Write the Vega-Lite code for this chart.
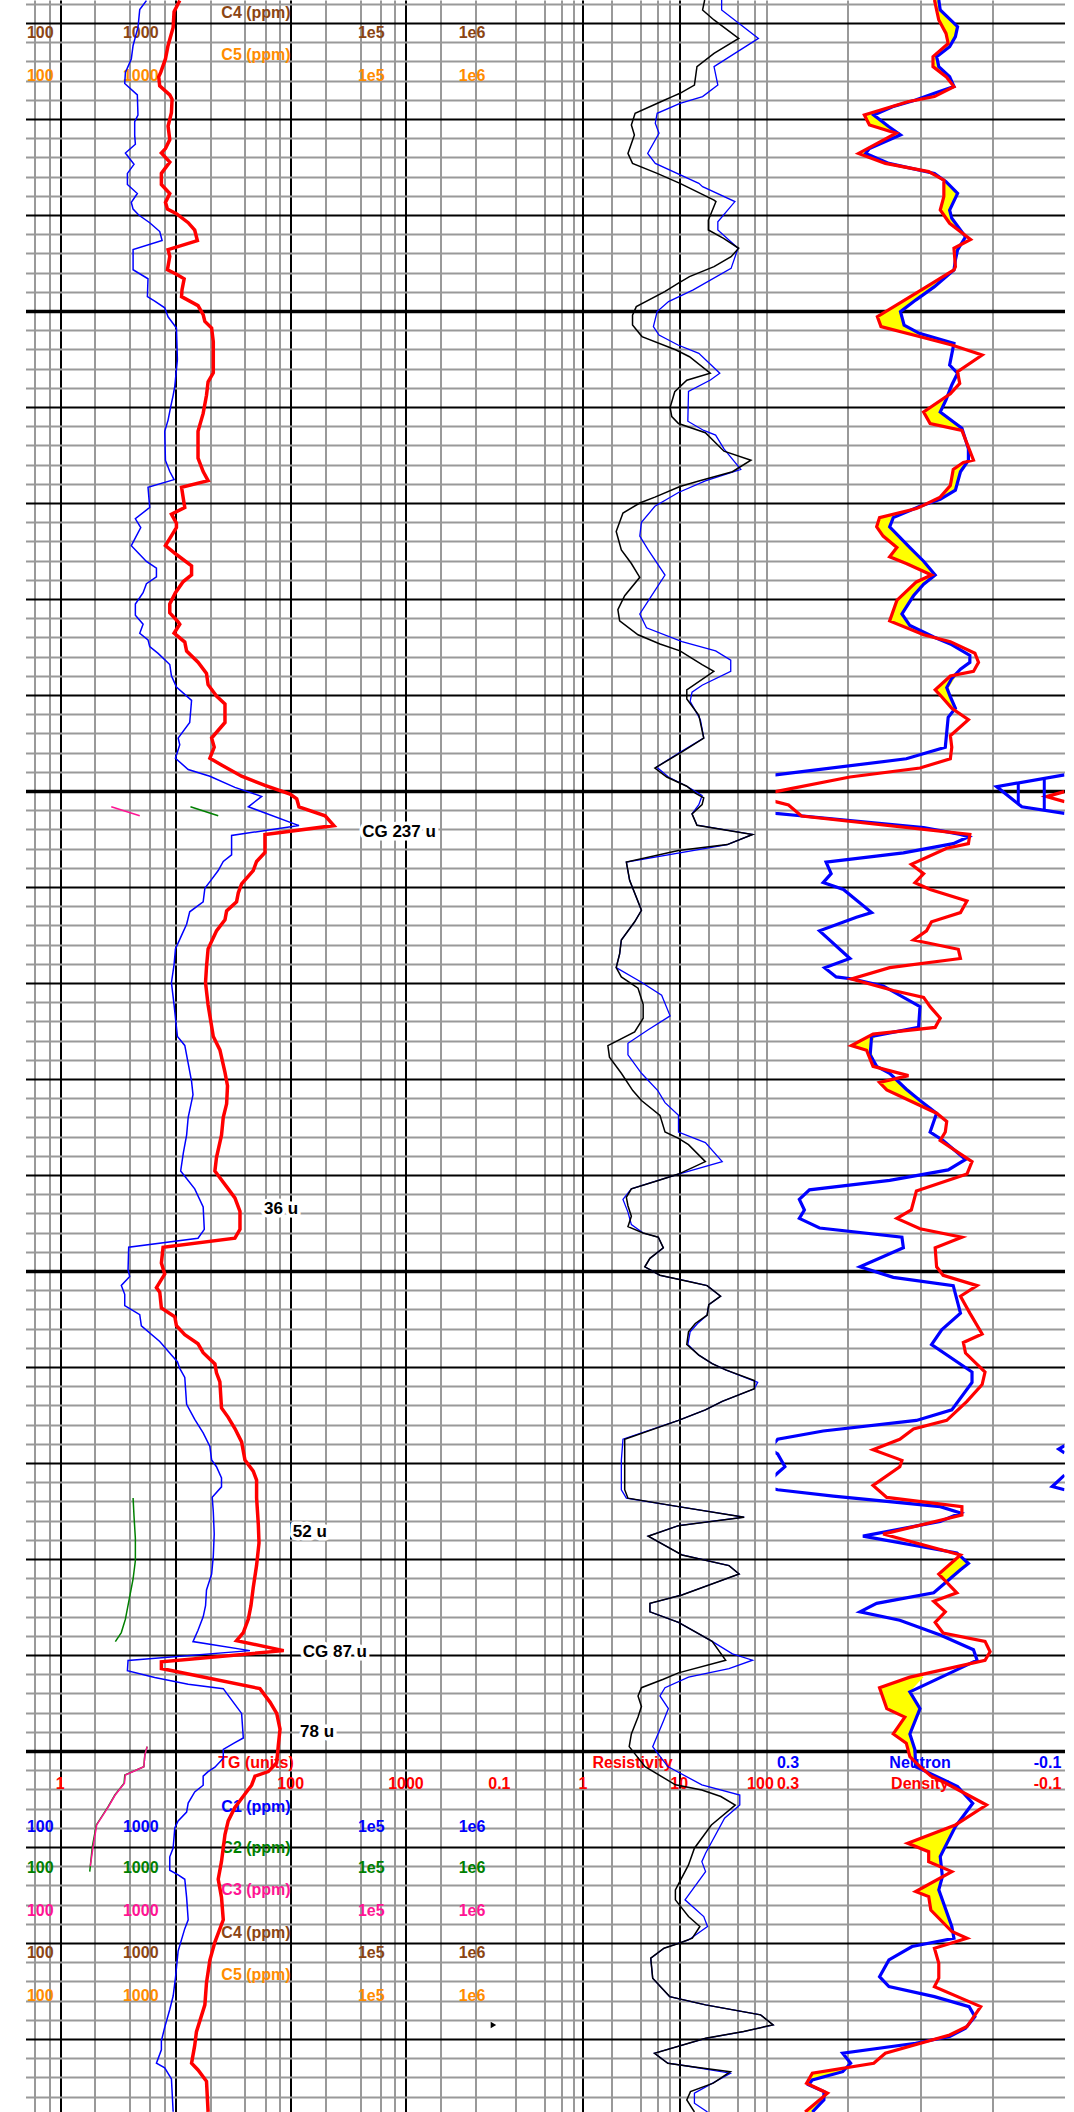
{
"$schema": "https://vega.github.io/schema/vega-lite/v6.json",
"padding": {"left": 25.5, "top": 0, "right": 6.5, "bottom": 0},
"autosize": {"type": "pad"},
"spacing": 0,
"bounds": "flush",
"background": "white",
"config": {"view": {"stroke": null}},
"datasets": {
"tg": [{"depth":8.83,"tg":10.9},{"depth":9.41,"tg":9.73},{"depth":10.23,"tg":9.55},{"depth":11.17,"tg":8.63},{"depth":11.87,"tg":8.19},{"depth":12.57,"tg":7.45},{"depth":12.8,"tg":7.16},{"depth":13.27,"tg":7.3},{"depth":13.74,"tg":8.93},{"depth":13.97,"tg":9.35},{"depth":14.67,"tg":9.23},{"depth":15.37,"tg":8.63},{"depth":16.07,"tg":8.93},{"depth":16.54,"tg":8.19},{"depth":16.77,"tg":7.55},{"depth":17.24,"tg":8.93},{"depth":17.83,"tg":7.55},{"depth":18.41,"tg":7.55},{"depth":18.88,"tg":8.93},{"depth":19.34,"tg":8.19},{"depth":19.69,"tg":8.52},{"depth":19.93,"tg":10.2},{"depth":20.4,"tg":12.9},{"depth":20.79,"tg":14.7},{"depth":21.33,"tg":15.5},{"depth":21.8,"tg":8.63},{"depth":22.15,"tg":8.93},{"depth":22.85,"tg":8.52},{"depth":23.08,"tg":10.2},{"depth":23.32,"tg":11.9},{"depth":23.9,"tg":11.4},{"depth":24.25,"tg":11.3},{"depth":24.72,"tg":15.7},{"depth":25.19,"tg":17.4},{"depth":25.54,"tg":18.0},{"depth":25.89,"tg":20.6},{"depth":26.59,"tg":21.3},{"depth":28.22,"tg":21.3},{"depth":28.69,"tg":19.2},{"depth":29.39,"tg":18.6},{"depth":30.33,"tg":17.4},{"depth":31.26,"tg":15.7},{"depth":32.66,"tg":15.7},{"depth":33.36,"tg":17.4},{"depth":33.83,"tg":19.2},{"depth":34.18,"tg":11.3},{"depth":34.76,"tg":11.7},{"depth":35.23,"tg":12.05},{"depth":35.58,"tg":9.23},{"depth":36.05,"tg":10.2},{"depth":36.28,"tg":10.2},{"depth":37.22,"tg":8.19},{"depth":37.68,"tg":10.2},{"depth":38.27,"tg":13.8},{"depth":38.74,"tg":13.8},{"depth":39.09,"tg":11.7},{"depth":39.67,"tg":10.0},{"depth":40.26,"tg":8.93},{"depth":40.72,"tg":8.93},{"depth":41.19,"tg":10.55},{"depth":41.31,"tg":10.9},{"depth":41.78,"tg":9.73},{"depth":42.24,"tg":12.05},{"depth":42.71,"tg":12.5},{"depth":43.29,"tg":15.7},{"depth":43.88,"tg":18.6},{"depth":44.46,"tg":19.2},{"depth":45.05,"tg":22.7},{"depth":45.47,"tg":26.9},{"depth":46.43,"tg":26.9},{"depth":47.24,"tg":20.6},{"depth":47.71,"tg":21.7},{"depth":48.29,"tg":19.9},{"depth":48.64,"tg":25.1},{"depth":49.23,"tg":37.5},{"depth":49.7,"tg":59.8},{"depth":50.16,"tg":98.7},{"depth":50.4,"tg":112.8},{"depth":50.82,"tg":118},{"depth":51.29,"tg":199},{"depth":51.8,"tg":237},{"depth":52.27,"tg":59.8},{"depth":53.2,"tg":59.8},{"depth":53.67,"tg":50.6},{"depth":54.14,"tg":47.3},{"depth":54.84,"tg":37.5},{"depth":55.3,"tg":35.1},{"depth":55.77,"tg":33.9},{"depth":56.24,"tg":27.8},{"depth":56.71,"tg":26.9},{"depth":57.29,"tg":22.7},{"depth":58.22,"tg":19.2},{"depth":59.16,"tg":18.6},{"depth":59.98,"tg":18.24},{"depth":61.14,"tg":19.2},{"depth":62.78,"tg":21.3},{"depth":63.48,"tg":24.3},{"depth":64.65,"tg":26.9},{"depth":65.35,"tg":28.3},{"depth":66.29,"tg":27.8},{"depth":66.99,"tg":26.0},{"depth":67.92,"tg":25.1},{"depth":69.09,"tg":22.7},{"depth":69.79,"tg":22.0},{"depth":70.02,"tg":23.5},{"depth":70.72,"tg":28.7},{"depth":71.19,"tg":32.8},{"depth":71.89,"tg":36.3},{"depth":72.83,"tg":36.3},{"depth":73.29,"tg":32.8},{"depth":73.76,"tg":7.81},{"depth":74.58,"tg":7.55},{"depth":75.16,"tg":8.07},{"depth":75.86,"tg":6.84},{"depth":76.1,"tg":7.31},{"depth":76.92,"tg":7.55},{"depth":77.38,"tg":9.87},{"depth":77.85,"tg":10.2},{"depth":78.32,"tg":12.05},{"depth":78.79,"tg":15.7},{"depth":79.25,"tg":17.4},{"depth":79.84,"tg":22.0},{"depth":80.3,"tg":22.7},{"depth":80.77,"tg":24.3},{"depth":82.13,"tg":25.1},{"depth":82.62,"tg":28.7},{"depth":83.2,"tg":32.8},{"depth":83.9,"tg":37.5},{"depth":84.84,"tg":40.1},{"depth":85.42,"tg":47.3},{"depth":85.89,"tg":50.6},{"depth":86.82,"tg":50.6},{"depth":88.22,"tg":52.4},{"depth":89.16,"tg":53.1},{"depth":90.33,"tg":50.6},{"depth":91.5,"tg":47.3},{"depth":92.43,"tg":45.2},{"depth":93.13,"tg":42.9},{"depth":93.83,"tg":38.8},{"depth":94.25,"tg":33.9},{"depth":94.77,"tg":87},{"depth":95.35,"tg":7.55},{"depth":95.7,"tg":7.55},{"depth":96.75,"tg":54.1},{"depth":97.45,"tg":66.1},{"depth":98.04,"tg":75.6},{"depth":98.86,"tg":80.8},{"depth":99.67,"tg":78.2},{"depth":100.61,"tg":75.6},{"depth":101.07,"tg":63.9},{"depth":101.31,"tg":49.0},{"depth":101.78,"tg":45.8},{"depth":102.24,"tg":40.1},{"depth":102.94,"tg":32.8},{"depth":103.64,"tg":28.7},{"depth":104.35,"tg":26.9},{"depth":105.75,"tg":25.1},{"depth":106.68,"tg":23.5},{"depth":107.62,"tg":25.1},{"depth":108.79,"tg":26.0},{"depth":109.95,"tg":22.0},{"depth":110.89,"tg":19.9},{"depth":112.06,"tg":18.6},{"depth":113.22,"tg":18.0},{"depth":114.63,"tg":15.2},{"depth":115.33,"tg":14.7},{"depth":116.26,"tg":13.8},{"depth":116.61,"tg":15.7},{"depth":117.2,"tg":18.6},{"depth":118.79,"tg":19.2}],
"c1": [{"depth":8.83,"ppm":1120},{"depth":9.3,"ppm":980},{"depth":10.23,"ppm":946},{"depth":11.17,"ppm":858},{"depth":11.87,"ppm":828},{"depth":12.57,"ppm":736},{"depth":13.15,"ppm":726},{"depth":13.74,"ppm":934},{"depth":14.79,"ppm":946},{"depth":15.14,"ppm":886},{"depth":15.84,"ppm":886},{"depth":16.31,"ppm":898},{"depth":16.77,"ppm":736},{"depth":17.36,"ppm":874},{"depth":17.83,"ppm":766},{"depth":18.41,"ppm":766},{"depth":18.88,"ppm":934},{"depth":19.34,"ppm":828},{"depth":19.69,"ppm":858},{"depth":20.0,"ppm":960},{"depth":20.4,"ppm":1196},{"depth":20.86,"ppm":1462},{"depth":21.33,"ppm":1532},{"depth":21.8,"ppm":858},{"depth":22.85,"ppm":858},{"depth":23.32,"ppm":1156},{"depth":24.25,"ppm":1142},{"depth":24.48,"ppm":1322},{"depth":24.83,"ppm":1614},{"depth":25.3,"ppm":1726},{"depth":25.89,"ppm":2040},{"depth":27.52,"ppm":2080},{"depth":28.92,"ppm":1974},{"depth":29.39,"ppm":1910},{"depth":29.97,"ppm":1822},{"depth":30.68,"ppm":1726},{"depth":31.26,"ppm":1614},{"depth":32.78,"ppm":1638},{"depth":33.36,"ppm":1786},{"depth":33.78,"ppm":1946},{"depth":34.18,"ppm":1156},{"depth":35.23,"ppm":1196},{"depth":35.82,"ppm":898},{"depth":36.28,"ppm":1000},{"depth":37.22,"ppm":828},{"depth":37.68,"ppm":980},{"depth":38.04,"ppm":1120},{"depth":38.39,"ppm":1368},{"depth":38.85,"ppm":1368},{"depth":39.2,"ppm":1120},{"depth":39.67,"ppm":1048},{"depth":40.26,"ppm":898},{"depth":40.84,"ppm":898},{"depth":41.31,"ppm":1048},{"depth":41.78,"ppm":980},{"depth":42.13,"ppm":1156},{"depth":42.48,"ppm":1196},{"depth":42.83,"ppm":1414},{"depth":43.41,"ppm":1786},{"depth":44.0,"ppm":1846},{"depth":44.58,"ppm":2040},{"depth":45.28,"ppm":2760},{"depth":46.43,"ppm":2660},{"depth":47.24,"ppm":2110},{"depth":47.59,"ppm":2180},{"depth":48.29,"ppm":2000},{"depth":48.88,"ppm":2580},{"depth":49.23,"ppm":3980},{"depth":49.81,"ppm":6560},{"depth":50.28,"ppm":11200},{"depth":50.82,"ppm":8580},{"depth":51.8,"ppm":23600},{"depth":52.31,"ppm":6140},{"depth":53.32,"ppm":6140},{"depth":53.67,"ppm":5200},{"depth":54.14,"ppm":4700},{"depth":54.6,"ppm":4120},{"depth":55.07,"ppm":3600},{"depth":55.77,"ppm":3480},{"depth":56.29,"ppm":2660},{"depth":56.94,"ppm":2500},{"depth":57.52,"ppm":2260},{"depth":58.22,"ppm":2000},{"depth":59.04,"ppm":1946},{"depth":59.98,"ppm":1846},{"depth":61.14,"ppm":1946},{"depth":62.78,"ppm":2080},{"depth":63.25,"ppm":2410},{"depth":64.18,"ppm":2580},{"depth":65.12,"ppm":2760},{"depth":65.82,"ppm":2840},{"depth":66.99,"ppm":2580},{"depth":67.92,"ppm":2500},{"depth":68.86,"ppm":2340},{"depth":69.79,"ppm":2220},{"depth":70.72,"ppm":2940},{"depth":71.66,"ppm":3480},{"depth":72.83,"ppm":3560},{"depth":73.29,"ppm":3140},{"depth":73.76,"ppm":786},{"depth":74.93,"ppm":776},{"depth":75.28,"ppm":802},{"depth":75.75,"ppm":678},{"depth":76.21,"ppm":726},{"depth":76.8,"ppm":726},{"depth":77.27,"ppm":980},{"depth":77.85,"ppm":1012},{"depth":78.67,"ppm":1462},{"depth":79.37,"ppm":1846},{"depth":79.72,"ppm":2080},{"depth":80.07,"ppm":2180},{"depth":80.54,"ppm":2410},{"depth":81.94,"ppm":2500},{"depth":82.73,"ppm":2940},{"depth":83.43,"ppm":3480},{"depth":84.14,"ppm":3980},{"depth":84.84,"ppm":4120},{"depth":85.19,"ppm":4540},{"depth":85.77,"ppm":5020},{"depth":86.24,"ppm":5020},{"depth":86.78,"ppm":4170},{"depth":87.52,"ppm":4260},{"depth":88.69,"ppm":4340},{"depth":89.86,"ppm":4260},{"depth":90.79,"ppm":4120},{"depth":91.61,"ppm":3720},{"depth":92.43,"ppm":3650},{"depth":93.01,"ppm":3480},{"depth":93.71,"ppm":3140},{"depth":94.3,"ppm":2840},{"depth":94.77,"ppm":8860},{"depth":95.28,"ppm":776},{"depth":95.82,"ppm":766},{"depth":96.17,"ppm":1322},{"depth":96.52,"ppm":2580},{"depth":96.75,"ppm":5200},{"depth":97.1,"ppm":5740},{"depth":97.57,"ppm":6560},{"depth":98.04,"ppm":7500},{"depth":99.32,"ppm":7760},{"depth":99.56,"ppm":6560},{"depth":99.91,"ppm":5200},{"depth":100.37,"ppm":5200},{"depth":100.84,"ppm":4400},{"depth":101.07,"ppm":3840},{"depth":101.31,"ppm":3480},{"depth":101.78,"ppm":3480},{"depth":102.13,"ppm":2940},{"depth":102.71,"ppm":2580},{"depth":103.18,"ppm":2500},{"depth":103.64,"ppm":2110},{"depth":104.0,"ppm":1974},{"depth":105.05,"ppm":1910},{"depth":105.51,"ppm":1786},{"depth":106.21,"ppm":1786},{"depth":106.45,"ppm":2110},{"depth":106.68,"ppm":2410},{"depth":107.62,"ppm":2500},{"depth":108.79,"ppm":2580},{"depth":109.25,"ppm":2410},{"depth":110.42,"ppm":2110},{"depth":111.82,"ppm":2000},{"depth":112.76,"ppm":1910},{"depth":113.46,"ppm":1786},{"depth":114.39,"ppm":1614},{"depth":115.09,"ppm":1510},{"depth":115.56,"ppm":1510},{"depth":116.26,"ppm":1368},{"depth":116.5,"ppm":1614},{"depth":117.08,"ppm":1846},{"depth":118.79,"ppm":1910}],
"c2": [{"seg":"a","depth":50.82,"ppm":2700},{"seg":"a","depth":51.29,"ppm":4700},{"seg":"b","depth":86.82,"ppm":858},{"seg":"b","depth":87.76,"ppm":874},{"seg":"b","depth":88.93,"ppm":898},{"seg":"b","depth":90.09,"ppm":898},{"seg":"b","depth":91.03,"ppm":858},{"seg":"b","depth":91.96,"ppm":802},{"seg":"b","depth":93.13,"ppm":736},{"seg":"b","depth":93.83,"ppm":678},{"seg":"b","depth":94.3,"ppm":602},{"seg":"c","depth":99.77,"ppm":1136},{"seg":"c","depth":100.2,"ppm":1085},{"seg":"c","depth":100.82,"ppm":1064},{"seg":"c","depth":101.25,"ppm":727},{"seg":"c","depth":101.68,"ppm":717},{"seg":"c","depth":102.29,"ppm":596},{"seg":"c","depth":102.9,"ppm":521},{"seg":"c","depth":103.85,"ppm":412},{"seg":"c","depth":104.98,"ppm":380},{"seg":"c","depth":106.28,"ppm":361}],
"c3": [{"seg":"a","depth":50.82,"ppm":555},{"seg":"a","depth":51.29,"ppm":980},{"seg":"c","depth":99.77,"ppm":1136},{"seg":"c","depth":100.2,"ppm":1085},{"seg":"c","depth":100.82,"ppm":1064},{"seg":"c","depth":101.25,"ppm":735},{"seg":"c","depth":101.68,"ppm":722},{"seg":"c","depth":102.29,"ppm":600},{"seg":"c","depth":102.9,"ppm":525},{"seg":"c","depth":103.85,"ppm":415},{"seg":"c","depth":104.98,"ppm":386},{"seg":"c","depth":106.0,"ppm":365}],
"rt": [{"depth":8.8,"ohmm":18.4},{"depth":9.32,"ohmm":17.5},{"depth":9.84,"ohmm":23.0},{"depth":10.8,"ohmm":41.5},{"depth":11.58,"ohmm":23.0},{"depth":12.27,"ohmm":15.3},{"depth":13.23,"ohmm":14.4},{"depth":13.66,"ohmm":10.2},{"depth":13.83,"ohmm":8.49},{"depth":14.01,"ohmm":7.08},{"depth":14.7,"ohmm":3.49},{"depth":15.31,"ohmm":3.19},{"depth":15.83,"ohmm":3.43},{"depth":16.79,"ohmm":2.94},{"depth":17.31,"ohmm":3.28},{"depth":17.83,"ohmm":5.91},{"depth":18.35,"ohmm":10.2},{"depth":19.22,"ohmm":23.0},{"depth":19.3,"ohmm":24.1},{"depth":20.26,"ohmm":20.1},{"depth":20.78,"ohmm":20.1},{"depth":21.21,"ohmm":28.9},{"depth":21.73,"ohmm":41.5},{"depth":22.17,"ohmm":34.6},{"depth":22.69,"ohmm":23.0},{"depth":23.21,"ohmm":12.8},{"depth":23.56,"ohmm":9.73},{"depth":23.99,"ohmm":7.08},{"depth":24.77,"ohmm":3.59},{"depth":25.21,"ohmm":3.28},{"depth":25.73,"ohmm":3.28},{"depth":26.33,"ohmm":4.11},{"depth":27.03,"ohmm":9.3},{"depth":27.38,"ohmm":12.8},{"depth":28.24,"ohmm":21.0},{"depth":28.6,"ohmm":12.0},{"depth":29.2,"ohmm":9.0},{"depth":30.02,"ohmm":8.05},{"depth":30.5,"ohmm":8.38},{"depth":30.86,"ohmm":9.84},{"depth":31.34,"ohmm":18.7},{"depth":32.3,"ohmm":29.2},{"depth":32.77,"ohmm":55.6},{"depth":33.37,"ohmm":35.7},{"depth":33.85,"ohmm":16.0},{"depth":34.14,"ohmm":10.2},{"depth":34.69,"ohmm":5.6},{"depth":35.0,"ohmm":3.9},{"depth":35.52,"ohmm":2.61},{"depth":36.48,"ohmm":2.22},{"depth":37.44,"ohmm":2.51},{"depth":38.15,"ohmm":3.19},{"depth":38.87,"ohmm":3.9},{"depth":39.83,"ohmm":2.72},{"depth":40.55,"ohmm":2.31},{"depth":41.14,"ohmm":2.41},{"depth":41.86,"ohmm":3.74},{"depth":42.34,"ohmm":6.32},{"depth":42.7,"ohmm":10.2},{"depth":43.42,"ohmm":17.3},{"depth":43.77,"ohmm":22.9},{"depth":44.73,"ohmm":12.0},{"depth":45.21,"ohmm":12.0},{"depth":46.05,"ohmm":16.0},{"depth":47.24,"ohmm":18.0},{"depth":47.96,"ohmm":10.7},{"depth":48.8,"ohmm":5.6},{"depth":49.27,"ohmm":7.43},{"depth":49.75,"ohmm":12.0},{"depth":50.11,"ohmm":14.7},{"depth":50.35,"ohmm":18.0},{"depth":50.71,"ohmm":17.3},{"depth":51.19,"ohmm":13.6},{"depth":51.78,"ohmm":15.3},{"depth":52.26,"ohmm":57.8},{"depth":52.79,"ohmm":31.6},{"depth":53.1,"ohmm":9.84},{"depth":53.7,"ohmm":2.83},{"depth":54.65,"ohmm":3.06},{"depth":56.21,"ohmm":4.06},{"depth":56.81,"ohmm":3.45},{"depth":57.76,"ohmm":2.51},{"depth":58.48,"ohmm":2.41},{"depth":59.2,"ohmm":2.22},{"depth":59.68,"ohmm":2.51},{"depth":60.27,"ohmm":3.74},{"depth":61.11,"ohmm":4.23},{"depth":61.83,"ohmm":4.23},{"depth":62.54,"ohmm":3.45},{"depth":63.26,"ohmm":1.82},{"depth":63.86,"ohmm":1.89},{"depth":64.7,"ohmm":2.51},{"depth":65.6,"ohmm":3.3},{"depth":66.12,"ohmm":4.06},{"depth":66.89,"ohmm":6.32},{"depth":67.76,"ohmm":7.13},{"depth":68.09,"ohmm":9.84},{"depth":68.42,"ohmm":12.5},{"depth":69.3,"ohmm":18.7},{"depth":69.95,"ohmm":9.84},{"depth":70.28,"ohmm":6.07},{"depth":70.72,"ohmm":3.19},{"depth":71.16,"ohmm":2.83},{"depth":71.6,"ohmm":2.94},{"depth":72.15,"ohmm":3.19},{"depth":72.69,"ohmm":2.94},{"depth":73.02,"ohmm":4.23},{"depth":73.24,"ohmm":6.07},{"depth":73.79,"ohmm":6.85},{"depth":74.34,"ohmm":4.97},{"depth":74.78,"ohmm":4.4},{"depth":75.22,"ohmm":6.32},{"depth":75.54,"ohmm":12.5},{"depth":75.76,"ohmm":19.5},{"depth":76.31,"ohmm":26.9},{"depth":76.75,"ohmm":20.3},{"depth":77.3,"ohmm":19.5},{"depth":77.73,"ohmm":14.7},{"depth":78.17,"ohmm":12.5},{"depth":78.83,"ohmm":12.0},{"depth":79.38,"ohmm":16.0},{"depth":79.82,"ohmm":22.0},{"depth":80.15,"ohmm":30.4},{"depth":80.7,"ohmm":60.3},{"depth":81.13,"ohmm":60.3},{"depth":81.79,"ohmm":28.0},{"depth":82.23,"ohmm":18.7},{"depth":82.78,"ohmm":9.84},{"depth":83.76,"ohmm":2.72},{"depth":84.86,"ohmm":2.72},{"depth":86.39,"ohmm":2.72},{"depth":86.83,"ohmm":2.94},{"depth":87.27,"ohmm":9.84},{"depth":87.82,"ohmm":47.3},{"depth":88.26,"ohmm":9.84},{"depth":88.81,"ohmm":4.77},{"depth":89.79,"ohmm":10.7},{"depth":90.34,"ohmm":32.9},{"depth":90.78,"ohmm":41.9},{"depth":91.87,"ohmm":10.7},{"depth":92.31,"ohmm":4.97},{"depth":92.75,"ohmm":4.97},{"depth":93.3,"ohmm":9.84},{"depth":94.29,"ohmm":22.0},{"depth":95.27,"ohmm":30.4},{"depth":95.93,"ohmm":9.84},{"depth":96.26,"ohmm":6.85},{"depth":96.7,"ohmm":4.06},{"depth":97.13,"ohmm":3.74},{"depth":97.68,"ohmm":4.06},{"depth":98.23,"ohmm":3.74},{"depth":99.11,"ohmm":3.19},{"depth":99.77,"ohmm":3.03},{"depth":100.81,"ohmm":4.43},{"depth":101.76,"ohmm":9.14},{"depth":102.03,"ohmm":17.2},{"depth":102.37,"ohmm":27.1},{"depth":102.81,"ohmm":38.2},{"depth":103.85,"ohmm":21.6},{"depth":105.06,"ohmm":14.4},{"depth":105.93,"ohmm":12.5},{"depth":107.23,"ohmm":9.14},{"depth":107.75,"ohmm":9.14},{"depth":108.62,"ohmm":12.5},{"depth":109.14,"ohmm":16.4},{"depth":109.75,"ohmm":13.7},{"depth":110.01,"ohmm":10.0},{"depth":110.27,"ohmm":6.96},{"depth":110.79,"ohmm":5.07},{"depth":111.83,"ohmm":5.31},{"depth":112.79,"ohmm":7.97},{"depth":113.22,"ohmm":18.8},{"depth":113.74,"ohmm":70.0},{"depth":114.26,"ohmm":94.4},{"depth":114.61,"ohmm":46.6},{"depth":114.96,"ohmm":18.8},{"depth":115.74,"ohmm":5.55},{"depth":116.26,"ohmm":7.62},{"depth":116.43,"ohmm":13.1},{"depth":116.7,"ohmm":34.0},{"depth":117.3,"ohmm":22.6},{"depth":117.74,"ohmm":13.1},{"depth":118.17,"ohmm":12.0},{"depth":118.8,"ohmm":14.4}],
"rxo": [{"depth":8.8,"ohmm":27.6},{"depth":9.32,"ohmm":27.6},{"depth":9.93,"ohmm":39.7},{"depth":10.8,"ohmm":66.5},{"depth":12.27,"ohmm":23.0},{"depth":13.23,"ohmm":25.2},{"depth":13.83,"ohmm":17.5},{"depth":14.18,"ohmm":10.2},{"depth":14.7,"ohmm":5.91},{"depth":15.22,"ohmm":5.65},{"depth":15.74,"ohmm":6.18},{"depth":16.79,"ohmm":4.71},{"depth":17.31,"ohmm":5.65},{"depth":18.35,"ohmm":16.0},{"depth":18.52,"ohmm":17.5},{"depth":19.3,"ohmm":37.9},{"depth":20.35,"ohmm":25.2},{"depth":20.78,"ohmm":25.2},{"depth":21.73,"ohmm":40.8},{"depth":22.78,"ohmm":34.6},{"depth":23.9,"ohmm":14.0},{"depth":24.51,"ohmm":7.76},{"depth":25.03,"ohmm":5.91},{"depth":25.81,"ohmm":5.4},{"depth":26.25,"ohmm":6.18},{"depth":26.77,"ohmm":9.73},{"depth":27.2,"ohmm":16.0},{"depth":28.24,"ohmm":26.4},{"depth":28.59,"ohmm":21.1},{"depth":29.19,"ohmm":12.5},{"depth":30.74,"ohmm":12.3},{"depth":31.22,"ohmm":18.0},{"depth":31.46,"ohmm":23.9},{"depth":32.18,"ohmm":29.2},{"depth":33.25,"ohmm":43.6},{"depth":33.85,"ohmm":18.7},{"depth":34.45,"ohmm":9.84},{"depth":35.17,"ohmm":5.6},{"depth":36.0,"ohmm":4.06},{"depth":36.72,"ohmm":3.9},{"depth":37.44,"ohmm":4.77},{"depth":38.75,"ohmm":7.13},{"depth":39.83,"ohmm":5.16},{"depth":40.78,"ohmm":3.9},{"depth":41.5,"ohmm":4.58},{"depth":42.22,"ohmm":10.7},{"depth":42.7,"ohmm":23.9},{"depth":43.18,"ohmm":34.3},{"depth":43.77,"ohmm":34.3},{"depth":44.49,"ohmm":17.3},{"depth":44.85,"ohmm":13.6},{"depth":45.33,"ohmm":13.0},{"depth":46.28,"ohmm":16.6},{"depth":47.24,"ohmm":18.0},{"depth":47.96,"ohmm":10.4},{"depth":48.75,"ohmm":5.83},{"depth":49.27,"ohmm":7.73},{"depth":49.75,"ohmm":12.0},{"depth":50.23,"ohmm":17.3},{"depth":50.71,"ohmm":16.0},{"depth":51.19,"ohmm":13.6},{"depth":51.78,"ohmm":15.3},{"depth":52.26,"ohmm":57.8},{"depth":52.79,"ohmm":31.6},{"depth":53.7,"ohmm":2.83},{"depth":54.65,"ohmm":3.06},{"depth":56.21,"ohmm":4.06},{"depth":56.81,"ohmm":3.45},{"depth":57.76,"ohmm":2.51},{"depth":58.48,"ohmm":2.41},{"depth":59.2,"ohmm":2.22},{"depth":59.91,"ohmm":3.9},{"depth":60.63,"ohmm":6.58},{"depth":61.71,"ohmm":8.05},{"depth":62.43,"ohmm":4.77},{"depth":63.14,"ohmm":2.94},{"depth":63.74,"ohmm":2.94},{"depth":64.7,"ohmm":4.06},{"depth":65.6,"ohmm":6.0},{"depth":66.23,"ohmm":7.13},{"depth":66.89,"ohmm":9.84},{"depth":67.76,"ohmm":9.84},{"depth":68.31,"ohmm":18.7},{"depth":69.3,"ohmm":28.0},{"depth":69.95,"ohmm":9.84},{"depth":70.28,"ohmm":6.07},{"depth":70.72,"ohmm":3.19},{"depth":71.27,"ohmm":2.61},{"depth":71.93,"ohmm":2.94},{"depth":72.58,"ohmm":3.19},{"depth":73.02,"ohmm":4.23},{"depth":73.24,"ohmm":6.07},{"depth":73.79,"ohmm":6.85},{"depth":74.34,"ohmm":4.97},{"depth":74.78,"ohmm":4.4},{"depth":75.22,"ohmm":6.32},{"depth":75.54,"ohmm":12.5},{"depth":75.76,"ohmm":19.5},{"depth":76.31,"ohmm":26.9},{"depth":76.75,"ohmm":20.3},{"depth":77.3,"ohmm":19.5},{"depth":77.73,"ohmm":15.5},{"depth":78.17,"ohmm":13.0},{"depth":78.83,"ohmm":12.3},{"depth":79.38,"ohmm":16.0},{"depth":79.82,"ohmm":22.0},{"depth":80.15,"ohmm":30.4},{"depth":80.8,"ohmm":65.3},{"depth":81.13,"ohmm":60.3},{"depth":81.79,"ohmm":28.0},{"depth":82.23,"ohmm":18.7},{"depth":82.78,"ohmm":9.84},{"depth":83.76,"ohmm":2.61},{"depth":84.86,"ohmm":2.51},{"depth":86.39,"ohmm":2.51},{"depth":86.83,"ohmm":2.83},{"depth":87.27,"ohmm":9.84},{"depth":87.82,"ohmm":47.3},{"depth":88.26,"ohmm":9.84},{"depth":88.81,"ohmm":4.77},{"depth":89.79,"ohmm":10.7},{"depth":90.34,"ohmm":32.9},{"depth":90.78,"ohmm":41.9},{"depth":91.87,"ohmm":10.7},{"depth":92.31,"ohmm":4.97},{"depth":92.75,"ohmm":4.97},{"depth":93.3,"ohmm":9.84},{"depth":94.29,"ohmm":22.0},{"depth":94.94,"ohmm":35.7},{"depth":95.27,"ohmm":57.8},{"depth":95.71,"ohmm":32.9},{"depth":96.15,"ohmm":12.5},{"depth":96.7,"ohmm":7.13},{"depth":97.13,"ohmm":6.32},{"depth":97.79,"ohmm":7.73},{"depth":98.45,"ohmm":6.85},{"depth":99.77,"ohmm":5.31},{"depth":100.81,"ohmm":7.62},{"depth":101.76,"ohmm":17.2},{"depth":102.29,"ohmm":42.6},{"depth":102.81,"ohmm":42.6},{"depth":103.5,"ohmm":29.6},{"depth":105.32,"ohmm":18.8},{"depth":105.76,"ohmm":17.2},{"depth":106.28,"ohmm":18.8},{"depth":107.75,"ohmm":11.5},{"depth":108.62,"ohmm":18.0},{"depth":109.14,"ohmm":19.7},{"depth":109.84,"ohmm":12.5},{"depth":110.27,"ohmm":6.96},{"depth":110.79,"ohmm":5.07},{"depth":111.83,"ohmm":5.31},{"depth":112.79,"ohmm":7.97},{"depth":113.22,"ohmm":18.8},{"depth":113.74,"ohmm":70.0},{"depth":114.26,"ohmm":94.4},{"depth":114.61,"ohmm":46.6},{"depth":114.96,"ohmm":18.8},{"depth":115.74,"ohmm":5.55},{"depth":116.26,"ohmm":7.62},{"depth":116.43,"ohmm":13.1},{"depth":116.78,"ohmm":34.0},{"depth":117.82,"ohmm":14.4},{"depth":118.34,"ohmm":14.4},{"depth":118.8,"ohmm":19.7}],
"neu": [{"depth":8.8,"v":0.074},{"depth":9.32,"v":0.072},{"depth":10.19,"v":0.048},{"depth":10.71,"v":0.051},{"depth":11.23,"v":0.059},{"depth":11.75,"v":0.077},{"depth":12.27,"v":0.074},{"depth":12.79,"v":0.059},{"depth":13.31,"v":0.053},{"depth":13.66,"v":0.08},{"depth":14.01,"v":0.106},{"depth":14.36,"v":0.138},{"depth":14.79,"v":0.164},{"depth":15.4,"v":0.143},{"depth":15.83,"v":0.127},{"depth":16.53,"v":0.17},{"depth":16.79,"v":0.175},{"depth":17.31,"v":0.143},{"depth":17.83,"v":0.08},{"depth":18.26,"v":0.064},{"depth":18.87,"v":0.048},{"depth":19.74,"v":0.059},{"depth":20.17,"v":0.056},{"depth":21.13,"v":0.037},{"depth":21.82,"v":0.048},{"depth":22.34,"v":0.051},{"depth":22.86,"v":0.053},{"depth":23.73,"v":0.08},{"depth":24.43,"v":0.106},{"depth":25.03,"v":0.127},{"depth":25.73,"v":0.122},{"depth":26.16,"v":0.101},{"depth":26.68,"v":0.053},{"depth":27.81,"v":0.059},{"depth":28.24,"v":0.048},{"depth":28.85,"v":0.056},{"depth":29.63,"v":0.064},{"depth":30.26,"v":0.072},{"depth":31.1,"v":0.042},{"depth":32.18,"v":0.033},{"depth":32.77,"v":0.033},{"depth":33.37,"v":0.044},{"depth":34.33,"v":0.051},{"depth":34.81,"v":0.072},{"depth":35.17,"v":0.1},{"depth":35.76,"v":0.137},{"depth":36.24,"v":0.142},{"depth":37.32,"v":0.114},{"depth":38.03,"v":0.095},{"depth":38.75,"v":0.079},{"depth":39.23,"v":0.095},{"depth":39.83,"v":0.109},{"depth":40.78,"v":0.125},{"depth":41.38,"v":0.114},{"depth":41.98,"v":0.081},{"depth":42.34,"v":0.058},{"depth":42.94,"v":0.031},{"depth":43.3,"v":0.031},{"depth":43.65,"v":0.044},{"depth":44.13,"v":0.056},{"depth":44.61,"v":0.063},{"depth":45.09,"v":0.058},{"depth":45.69,"v":0.051},{"depth":46.16,"v":0.061},{"depth":47.72,"v":0.065},{"depth":48.32,"v":0.119},{"depth":49.16,"v":0.3},{"depth":49.77,"v":0.394},{"depth":50.82,"v":0.359},{"depth":51.16,"v":0.3},{"depth":51.3,"v":0.262},{"depth":51.9,"v":0.095},{"depth":52.26,"v":0.044},{"depth":52.38,"v":0.033},{"depth":52.74,"v":0.054},{"depth":53.22,"v":0.123},{"depth":53.7,"v":0.23},{"depth":54.3,"v":0.223},{"depth":54.77,"v":0.234},{"depth":55.13,"v":0.206},{"depth":56.33,"v":0.167},{"depth":56.57,"v":0.188},{"depth":57.28,"v":0.239},{"depth":58.72,"v":0.197},{"depth":59.2,"v":0.232},{"depth":59.68,"v":0.216},{"depth":59.79,"v":0.193},{"depth":60.15,"v":0.151},{"depth":61.23,"v":0.1},{"depth":62.31,"v":0.102},{"depth":62.78,"v":0.167},{"depth":63.74,"v":0.169},{"depth":64.34,"v":0.16},{"depth":64.7,"v":0.142},{"depth":65.53,"v":0.119},{"depth":66.12,"v":0.1},{"depth":66.78,"v":0.077},{"depth":67.76,"v":0.086},{"depth":68.2,"v":0.068},{"depth":69.19,"v":0.037},{"depth":69.73,"v":0.061},{"depth":70.28,"v":0.142},{"depth":70.77,"v":0.253},{"depth":71.27,"v":0.267},{"depth":71.82,"v":0.26},{"depth":72.26,"v":0.267},{"depth":72.76,"v":0.239},{"depth":73.24,"v":0.125},{"depth":73.79,"v":0.123},{"depth":74.78,"v":0.183},{"depth":75.33,"v":0.137},{"depth":75.76,"v":0.054},{"depth":77.19,"v":0.044},{"depth":78.06,"v":0.07},{"depth":78.83,"v":0.084},{"depth":80.26,"v":0.028},{"depth":80.8,"v":0.028},{"depth":82.23,"v":0.056},{"depth":82.78,"v":0.105},{"depth":83.33,"v":0.234},{"depth":83.76,"v":0.297},{"depth":84.27,"v":0.308},{"depth":84.53,"v":0.297},{"depth":85.19,"v":0.287},{"depth":85.52,"v":0.297},{"depth":86.22,"v":0.317},{"depth":86.39,"v":0.297},{"depth":86.72,"v":0.22},{"depth":87.27,"v":0.072},{"depth":87.6,"v":0.044},{"depth":88.04,"v":0.072},{"depth":88.81,"v":0.179},{"depth":89.68,"v":0.049},{"depth":90.23,"v":0.033},{"depth":90.56,"v":0.044},{"depth":91.76,"v":0.081},{"depth":92.31,"v":0.16},{"depth":92.75,"v":0.183},{"depth":93.19,"v":0.128},{"depth":93.96,"v":0.072},{"depth":94.72,"v":0.026},{"depth":95.27,"v":0.021},{"depth":95.93,"v":0.058},{"depth":96.92,"v":0.114},{"depth":97.79,"v":0.1},{"depth":99.11,"v":0.114},{"depth":99.94,"v":0.107},{"depth":100.81,"v":0.106},{"depth":101.5,"v":0.067},{"depth":101.85,"v":0.048},{"depth":102.72,"v":0.027},{"depth":103.93,"v":0.051},{"depth":105.5,"v":0.072},{"depth":106.54,"v":0.069},{"depth":107.23,"v":0.074},{"depth":109.14,"v":0.056},{"depth":109.75,"v":0.053},{"depth":110.18,"v":0.111},{"depth":110.88,"v":0.143},{"depth":111.75,"v":0.156},{"depth":112.27,"v":0.143},{"depth":112.79,"v":0.08},{"depth":113.31,"v":0.032},{"depth":113.83,"v":0.024},{"depth":114.44,"v":0.037},{"depth":114.87,"v":0.059},{"depth":115.22,"v":0.106},{"depth":115.74,"v":0.207},{"depth":116.26,"v":0.196},{"depth":116.7,"v":0.207},{"depth":117.13,"v":0.249},{"depth":117.39,"v":0.254},{"depth":117.74,"v":0.233},{"depth":118.17,"v":0.233},{"depth":118.8,"v":0.249}],
"den": [{"depth":8.8,"v":0.08},{"depth":9.84,"v":0.074},{"depth":10.54,"v":0.064},{"depth":11.06,"v":0.061},{"depth":11.75,"v":0.082},{"depth":12.27,"v":0.082},{"depth":12.79,"v":0.064},{"depth":13.31,"v":0.053},{"depth":13.83,"v":0.08},{"depth":14.1,"v":0.117},{"depth":14.79,"v":0.177},{"depth":15.31,"v":0.17},{"depth":15.74,"v":0.133},{"depth":16.79,"v":0.185},{"depth":17.31,"v":0.148},{"depth":17.74,"v":0.088},{"depth":18.18,"v":0.067},{"depth":19.04,"v":0.067},{"depth":19.74,"v":0.072},{"depth":20.43,"v":0.059},{"depth":21.27,"v":0.03},{"depth":21.73,"v":0.053},{"depth":22.69,"v":0.051},{"depth":22.86,"v":0.053},{"depth":23.9,"v":0.098},{"depth":25.29,"v":0.159},{"depth":25.81,"v":0.154},{"depth":26.33,"v":0.101},{"depth":26.77,"v":0.056},{"depth":27.29,"v":0.014},{"depth":28.16,"v":0.048},{"depth":28.77,"v":0.045},{"depth":29.31,"v":0.058},{"depth":30.26,"v":0.095},{"depth":30.86,"v":0.086},{"depth":31.22,"v":0.042},{"depth":32.77,"v":0.026},{"depth":32.89,"v":0.04},{"depth":33.25,"v":0.054},{"depth":34.09,"v":0.058},{"depth":34.69,"v":0.072},{"depth":35.29,"v":0.105},{"depth":35.76,"v":0.156},{"depth":36.24,"v":0.16},{"depth":36.72,"v":0.151},{"depth":37.32,"v":0.132},{"depth":37.8,"v":0.142},{"depth":38.15,"v":0.119},{"depth":38.75,"v":0.084},{"depth":39.11,"v":0.105},{"depth":40.07,"v":0.132},{"depth":41.14,"v":0.142},{"depth":41.86,"v":0.095},{"depth":42.22,"v":0.058},{"depth":42.82,"v":0.024},{"depth":43.3,"v":0.019},{"depth":43.77,"v":0.026},{"depth":44.01,"v":0.058},{"depth":44.73,"v":0.079},{"depth":45.09,"v":0.07},{"depth":45.69,"v":0.056},{"depth":46.28,"v":0.033},{"depth":47.12,"v":0.058},{"depth":47.72,"v":0.056},{"depth":48.32,"v":0.058},{"depth":48.8,"v":0.1},{"depth":49.27,"v":0.197},{"depth":50.03,"v":0.3},{"depth":50.29,"v":0.325},{"depth":50.55,"v":0.3},{"depth":50.73,"v":0.282},{"depth":51.3,"v":0.264},{"depth":52.26,"v":0.031},{"depth":52.74,"v":0.033},{"depth":52.98,"v":0.063},{"depth":53.82,"v":0.112},{"depth":54.3,"v":0.095},{"depth":54.77,"v":0.107},{"depth":55.13,"v":0.086},{"depth":55.73,"v":0.035},{"depth":56.33,"v":0.044},{"depth":56.81,"v":0.084},{"depth":57.28,"v":0.091},{"depth":57.76,"v":0.109},{"depth":58.24,"v":0.047},{"depth":58.72,"v":0.044},{"depth":59.2,"v":0.142},{"depth":59.79,"v":0.195},{"depth":60.39,"v":0.137},{"depth":60.75,"v":0.095},{"depth":61.23,"v":0.086},{"depth":61.83,"v":0.072},{"depth":62.31,"v":0.079},{"depth":62.66,"v":0.165},{"depth":63.26,"v":0.195},{"depth":63.5,"v":0.174},{"depth":64.34,"v":0.165},{"depth":64.82,"v":0.116},{"depth":65.18,"v":0.156},{"depth":65.57,"v":0.146},{"depth":66.78,"v":0.077},{"depth":67.21,"v":0.063},{"depth":67.76,"v":0.065},{"depth":68.2,"v":0.072},{"depth":69.3,"v":0.028},{"depth":69.95,"v":0.035},{"depth":70.83,"v":0.105},{"depth":71.82,"v":0.112},{"depth":72.26,"v":0.132},{"depth":72.8,"v":0.1},{"depth":73.24,"v":0.042},{"depth":73.79,"v":0.079},{"depth":74.78,"v":0.077},{"depth":75.22,"v":0.068},{"depth":75.76,"v":0.021},{"depth":76.31,"v":0.044},{"depth":77.19,"v":0.031},{"depth":78.28,"v":0.014},{"depth":78.72,"v":0.04},{"depth":79.27,"v":0.037},{"depth":80.26,"v":0.01},{"depth":80.91,"v":0.014},{"depth":81.79,"v":0.035},{"depth":82.78,"v":0.063},{"depth":83.22,"v":0.109},{"depth":83.76,"v":0.128},{"depth":84.31,"v":0.165},{"depth":84.86,"v":0.125},{"depth":85.19,"v":0.128},{"depth":86.17,"v":0.165},{"depth":86.79,"v":0.146},{"depth":87.27,"v":0.042},{"depth":87.71,"v":0.042},{"depth":88.7,"v":0.151},{"depth":89.79,"v":0.044},{"depth":90.78,"v":0.074},{"depth":91.76,"v":0.049},{"depth":92.2,"v":0.081},{"depth":92.75,"v":0.065},{"depth":93.3,"v":0.079},{"depth":93.85,"v":0.068},{"depth":94.29,"v":0.01},{"depth":94.83,"v":0.003},{"depth":95.27,"v":0.01},{"depth":96.15,"v":0.114},{"depth":96.7,"v":0.156},{"depth":97.79,"v":0.146},{"depth":98.23,"v":0.121},{"depth":99.11,"v":0.137},{"depth":99.59,"v":0.119},{"depth":100.29,"v":0.114},{"depth":100.81,"v":0.1},{"depth":101.3,"v":0.085},{"depth":101.68,"v":0.064},{"depth":102.81,"v":0.008},{"depth":103.85,"v":0.051},{"depth":104.8,"v":0.117},{"depth":105.24,"v":0.088},{"depth":105.76,"v":0.088},{"depth":106.28,"v":0.056},{"depth":107.32,"v":0.106},{"depth":107.58,"v":0.088},{"depth":108.28,"v":0.085},{"depth":109.4,"v":0.056},{"depth":109.75,"v":0.035},{"depth":110.27,"v":0.08},{"depth":111.05,"v":0.074},{"depth":111.83,"v":0.074},{"depth":112.27,"v":0.08},{"depth":113.31,"v":0.016},{"depth":114.35,"v":0.035},{"depth":114.79,"v":0.059},{"depth":115.74,"v":0.148},{"depth":116.26,"v":0.164},{"depth":116.78,"v":0.249},{"depth":117.3,"v":0.257},{"depth":117.82,"v":0.228},{"depth":118.8,"v":0.259}],
"cross": [{"patch":1,"depth":8.8,"den":0.08,"neu":0.074},{"patch":1,"depth":9.32,"den":0.077,"neu":0.072},{"patch":1,"depth":9.84,"den":0.074,"neu":0.06},{"patch":1,"depth":10.19,"den":0.069,"neu":0.048},{"patch":1,"depth":10.54,"den":0.064,"neu":0.05},{"patch":1,"depth":10.71,"den":0.063,"neu":0.051},{"patch":1,"depth":11.06,"den":0.061,"neu":0.056},{"patch":1,"depth":11.23,"den":0.064,"neu":0.059},{"patch":1,"depth":11.75,"den":0.082,"neu":0.077},{"patch":1,"depth":12.27,"den":0.082,"neu":0.074},{"patch":1,"depth":12.79,"den":0.064,"neu":0.059},{"patch":1,"depth":13.31,"den":0.053,"neu":0.053},
{"patch":2,"depth":14.05,"den":0.112,"neu":0.112},{"patch":2,"depth":14.36,"den":0.143,"neu":0.138},{"patch":2,"depth":14.79,"den":0.177,"neu":0.164},{"patch":2,"depth":15.31,"den":0.17,"neu":0.146},{"patch":2,"depth":15.74,"den":0.133,"neu":0.13},{"patch":2,"depth":16.0,"den":0.146,"neu":0.137},{"patch":2,"depth":16.53,"den":0.172,"neu":0.17},{"patch":2,"depth":16.79,"den":0.185,"neu":0.175},{"patch":2,"depth":17.31,"den":0.148,"neu":0.143},{"patch":2,"depth":17.74,"den":0.088,"neu":0.087},{"patch":2,"depth":18.18,"den":0.067,"neu":0.066},{"patch":2,"depth":18.87,"den":0.067,"neu":0.048},{"patch":2,"depth":19.04,"den":0.067,"neu":0.05},{"patch":2,"depth":19.74,"den":0.072,"neu":0.059},{"patch":2,"depth":20.17,"den":0.064,"neu":0.056},{"patch":2,"depth":20.43,"den":0.059,"neu":0.052},{"patch":2,"depth":21.13,"den":0.038,"neu":0.037},
{"patch":3,"depth":21.5,"den":0.042,"neu":0.042},{"patch":3,"depth":21.73,"den":0.053,"neu":0.047},{"patch":3,"depth":22.34,"den":0.052,"neu":0.051},{"patch":3,"depth":22.86,"den":0.053,"neu":0.053},
{"patch":4,"depth":22.9,"den":0.054,"neu":0.054},{"patch":4,"depth":23.9,"den":0.098,"neu":0.084},{"patch":4,"depth":24.43,"den":0.122,"neu":0.106},{"patch":4,"depth":25.03,"den":0.148,"neu":0.127},{"patch":4,"depth":25.29,"den":0.159,"neu":0.126},{"patch":4,"depth":25.81,"den":0.154,"neu":0.12},{"patch":4,"depth":26.16,"den":0.113,"neu":0.101},{"patch":4,"depth":26.33,"den":0.101,"neu":0.088},{"patch":4,"depth":26.77,"den":0.056,"neu":0.053},{"patch":4,"depth":26.82,"den":0.054,"neu":0.054},
{"patch":5,"depth":29.5,"den":0.061,"neu":0.061},{"patch":5,"depth":30.26,"den":0.095,"neu":0.072},{"patch":5,"depth":30.86,"den":0.086,"neu":0.048},{"patch":5,"depth":31.2,"den":0.043,"neu":0.043},
{"patch":6,"depth":32.85,"den":0.035,"neu":0.035},{"patch":6,"depth":33.25,"den":0.054,"neu":0.041},{"patch":6,"depth":34.09,"den":0.058,"neu":0.049},{"patch":6,"depth":34.33,"den":0.062,"neu":0.051},{"patch":6,"depth":34.69,"den":0.072,"neu":0.066},{"patch":6,"depth":34.9,"den":0.078,"neu":0.078},
{"patch":7,"depth":35.2,"den":0.101,"neu":0.101},{"patch":7,"depth":35.76,"den":0.156,"neu":0.137},{"patch":7,"depth":36.24,"den":0.16,"neu":0.142},{"patch":7,"depth":36.72,"den":0.151,"neu":0.129},{"patch":7,"depth":37.32,"den":0.132,"neu":0.114},{"patch":7,"depth":37.8,"den":0.142,"neu":0.101},{"patch":7,"depth":38.15,"den":0.119,"neu":0.092},{"patch":7,"depth":38.75,"den":0.084,"neu":0.079},{"patch":7,"depth":39.11,"den":0.105,"neu":0.091},{"patch":7,"depth":39.83,"den":0.124,"neu":0.109},{"patch":7,"depth":40.07,"den":0.132,"neu":0.114},{"patch":7,"depth":40.78,"den":0.139,"neu":0.125},{"patch":7,"depth":41.14,"den":0.142,"neu":0.12},{"patch":7,"depth":41.38,"den":0.125,"neu":0.114},{"patch":7,"depth":41.86,"den":0.095,"neu":0.088},{"patch":7,"depth":42.05,"den":0.078,"neu":0.078},
{"patch":8,"depth":43.85,"den":0.047,"neu":0.047},{"patch":8,"depth":44.01,"den":0.058,"neu":0.05},{"patch":8,"depth":44.73,"den":0.079,"neu":0.062},{"patch":8,"depth":45.09,"den":0.07,"neu":0.058},{"patch":8,"depth":45.69,"den":0.056,"neu":0.051},{"patch":8,"depth":45.85,"den":0.053,"neu":0.053},
{"patch":9,"depth":62.6,"den":0.16,"neu":0.16},{"patch":9,"depth":63.26,"den":0.195,"neu":0.168},{"patch":9,"depth":63.5,"den":0.174,"neu":0.168},{"patch":9,"depth":64.34,"den":0.165,"neu":0.16},{"patch":9,"depth":64.55,"den":0.148,"neu":0.148},
{"patch":10,"depth":65.0,"den":0.136,"neu":0.136},{"patch":10,"depth":65.18,"den":0.156,"neu":0.128},{"patch":10,"depth":65.57,"den":0.146,"neu":0.114},{"patch":10,"depth":66.12,"den":0.115,"neu":0.1},{"patch":10,"depth":66.5,"den":0.09,"neu":0.085},{"patch":10,"depth":66.78,"den":0.077,"neu":0.077},
{"patch":11,"depth":67.95,"den":0.07,"neu":0.07},{"patch":11,"depth":68.2,"den":0.072,"neu":0.068},{"patch":11,"depth":68.8,"den":0.048,"neu":0.046},{"patch":11,"depth":69.1,"den":0.04,"neu":0.04},
{"patch":12,"depth":89.75,"den":0.046,"neu":0.046},{"patch":12,"depth":90.23,"den":0.057,"neu":0.033},{"patch":12,"depth":90.56,"den":0.067,"neu":0.044},{"patch":12,"depth":90.78,"den":0.074,"neu":0.051},{"patch":12,"depth":91.2,"den":0.062,"neu":0.062},
{"patch":13,"depth":96.05,"den":0.1,"neu":0.1},{"patch":13,"depth":96.15,"den":0.114,"neu":0.095},{"patch":13,"depth":96.7,"den":0.156,"neu":0.109},{"patch":13,"depth":96.92,"den":0.153,"neu":0.114},{"patch":13,"depth":97.79,"den":0.146,"neu":0.1},{"patch":13,"depth":98.23,"den":0.121,"neu":0.105},{"patch":13,"depth":99.11,"den":0.137,"neu":0.114},{"patch":13,"depth":99.59,"den":0.119,"neu":0.11},{"patch":13,"depth":100.29,"den":0.114,"neu":0.108},{"patch":13,"depth":100.6,"den":0.106,"neu":0.106},
{"patch":14,"depth":101.0,"den":0.097,"neu":0.097},{"patch":14,"depth":101.3,"den":0.085,"neu":0.078},{"patch":14,"depth":101.5,"den":0.076,"neu":0.067},{"patch":14,"depth":101.68,"den":0.064,"neu":0.056},{"patch":14,"depth":101.85,"den":0.055,"neu":0.048},{"patch":14,"depth":102.15,"den":0.041,"neu":0.041},
{"patch":15,"depth":103.9,"den":0.051,"neu":0.051},{"patch":15,"depth":104.8,"den":0.117,"neu":0.061},{"patch":15,"depth":105.24,"den":0.088,"neu":0.068},{"patch":15,"depth":105.76,"den":0.088,"neu":0.071},{"patch":15,"depth":106.0,"den":0.072,"neu":0.072},
{"patch":16,"depth":106.7,"den":0.072,"neu":0.072},{"patch":16,"depth":107.32,"den":0.106,"neu":0.075},{"patch":16,"depth":107.58,"den":0.088,"neu":0.073},{"patch":16,"depth":108.28,"den":0.085,"neu":0.066},{"patch":16,"depth":109.14,"den":0.06,"neu":0.056},{"patch":16,"depth":109.4,"den":0.056,"neu":0.055},
{"patch":17,"depth":116.55,"den":0.205,"neu":0.205},{"patch":17,"depth":116.78,"den":0.249,"neu":0.214},{"patch":17,"depth":117.13,"den":0.253,"neu":0.249},{"patch":17,"depth":117.3,"den":0.257,"neu":0.252},{"patch":17,"depth":117.6,"den":0.24,"neu":0.24},
{"patch":18,"depth":118.0,"den":0.232,"neu":0.232},{"patch":18,"depth":118.8,"den":0.259,"neu":0.249}],
"wrap": [{"seg":"n1","curve":"Neu","depth":49.16,"v":-0.1},{"seg":"n1","curve":"Neu","depth":49.77,"v":-0.006},{"seg":"n1","curve":"Neu","depth":50.82,"v":-0.041},{"seg":"n1","curve":"Neu","depth":51.16,"v":-0.1},{"seg":"d1","curve":"Den","depth":50.03,"v":-0.1},{"seg":"d1","curve":"Den","depth":50.29,"v":-0.075},{"seg":"d1","curve":"Den","depth":50.55,"v":-0.1},{"seg":"n2","curve":"Neu","depth":84.09,"v":-0.1},{"seg":"n2","curve":"Neu","depth":84.27,"v":-0.092},{"seg":"n2","curve":"Neu","depth":84.47,"v":-0.1},{"seg":"n3","curve":"Neu","depth":85.63,"v":-0.1},{"seg":"n3","curve":"Neu","depth":86.22,"v":-0.083},{"seg":"n3","curve":"Neu","depth":86.39,"v":-0.1}],
"hatch": [{"v":-0.036,"top":49.56,"bottom":50.67},{"v":-0.072,"top":49.31,"bottom":51.02}],
"marker": [{"depth":114.27,"ohmm":0.118}],
"gasLabels": [{"label":"C4 (ppm)","curve":"C4","pos":50,"depth":9.46},{"label":"100","curve":"C4","pos":0.671,"depth":10.53},{"label":"1000","curve":"C4","pos":5.0,"depth":10.53},{"label":"1e5","curve":"C4","pos":500,"depth":10.53},{"label":"1e6","curve":"C4","pos":3743,"depth":10.53},{"label":"C5 (ppm)","curve":"C5","pos":50,"depth":11.66},{"label":"100","curve":"C5","pos":0.671,"depth":12.74},{"label":"1000","curve":"C5","pos":5.0,"depth":12.74},{"label":"1e5","curve":"C5","pos":500,"depth":12.74},{"label":"1e6","curve":"C5","pos":3743,"depth":12.74},
{"label":"TG (units)","curve":"TG","pos":50,"depth":100.64},{"label":"1","curve":"TG","pos":1,"depth":101.73},{"label":"100","curve":"TG","pos":100,"depth":101.73},{"label":"1000","curve":"TG","pos":1000,"depth":101.73},
{"label":"C1 (ppm)","curve":"C1","pos":50,"depth":102.9},{"label":"100","curve":"C1","pos":0.671,"depth":103.94},{"label":"1000","curve":"C1","pos":5.0,"depth":103.94},{"label":"1e5","curve":"C1","pos":500,"depth":103.94},{"label":"1e6","curve":"C1","pos":3743,"depth":103.94},
{"label":"C2 (ppm)","curve":"C2","pos":50,"depth":105.07},{"label":"100","curve":"C2","pos":0.671,"depth":106.11},{"label":"1000","curve":"C2","pos":5.0,"depth":106.11},{"label":"1e5","curve":"C2","pos":500,"depth":106.11},{"label":"1e6","curve":"C2","pos":3743,"depth":106.11},
{"label":"C3 (ppm)","curve":"C3","pos":50,"depth":107.24},{"label":"100","curve":"C3","pos":0.671,"depth":108.33},{"label":"1000","curve":"C3","pos":5.0,"depth":108.33},{"label":"1e5","curve":"C3","pos":500,"depth":108.33},{"label":"1e6","curve":"C3","pos":3743,"depth":108.33},
{"label":"C4 (ppm)","curve":"C4","pos":50,"depth":109.46},{"label":"100","curve":"C4","pos":0.671,"depth":110.53},{"label":"1000","curve":"C4","pos":5.0,"depth":110.53},{"label":"1e5","curve":"C4","pos":500,"depth":110.53},{"label":"1e6","curve":"C4","pos":3743,"depth":110.53},
{"label":"C5 (ppm)","curve":"C5","pos":50,"depth":111.66},{"label":"100","curve":"C5","pos":0.671,"depth":112.74},{"label":"1000","curve":"C5","pos":5.0,"depth":112.74},{"label":"1e5","curve":"C5","pos":500,"depth":112.74},{"label":"1e6","curve":"C5","pos":3743,"depth":112.74}],
"notes": [{"label":"CG 237 u","pos":871,"depth":52.12},{"label":"36 u","pos":82.6,"depth":71.77},{"label":"52 u","pos":146.5,"depth":88.57},{"label":"CG 87 u","pos":241.5,"depth":94.83},{"label":"78 u","pos":169.4,"depth":98.99}],
"resLabels": [{"label":"Resistivity","curve":"Res","pos":3.28,"depth":100.64},{"label":"0.1","curve":"Res","pos":0.136,"depth":101.73},{"label":"1","curve":"Res","pos":1,"depth":101.73},{"label":"10","curve":"Res","pos":10,"depth":101.73},{"label":"100","curve":"Res","pos":69.8,"depth":101.73}],
"poroLabels": [{"label":"0.3","curve":"Neu","pos":0.2826,"depth":100.64},{"label":"Neutron","curve":"Neu","pos":0.1,"depth":100.64},{"label":"-0.1","curve":"Neu","pos":-0.0765,"depth":100.64},{"label":"0.3","curve":"Den","pos":0.2826,"depth":101.73},{"label":"Density","curve":"Den","pos":0.1,"depth":101.73},{"label":"-0.1","curve":"Den","pos":-0.0765,"depth":101.73}]
},
"hconcat": [
{
"width": 461, "height": 2112,
"resolve": {"scale": {"x": "independent"}},
"layer": [
{"data": {"name": "gasLabels"},
 "mark": {"type": "text", "font": "Liberation Sans", "fontWeight": "bold", "fontSize": 16, "baseline": "middle", "align": "center"},
 "encoding": {
  "x": {"field": "pos", "type": "quantitative", "scale": {"type": "log", "domain": [0.5, 5000], "nice": false},
        "axis": {"grid": true, "labels": false, "ticks": false, "domain": false, "title": null, "tickCount": 1000,
                 "values": [0.6,0.8,1,2,4,6,8,10,20,40,60,80,100,200,400,600,800,1000,2000,4000],
                 "gridColor": {"condition": {"test": "indexof([1,10,100,1000], datum.value) >= 0", "value": "#000000"}, "value": "#999999"},
                 "gridWidth": 2}},
  "y": {"field": "depth", "type": "quantitative", "scale": {"domain": [8.8, 118.8], "reverse": true, "nice": false, "zero": false},
        "axis": {"grid": true, "labels": false, "ticks": false, "domain": false, "title": null, "tickCount": 1000,
                 "values": [9,10,11,12,13,14,15,16,17,18,19,20,21,22,23,24,25,26,27,28,29,30,31,32,33,34,35,36,37,38,39,40,41,42,43,44,45,46,47,48,49,50,51,52,53,54,55,56,57,58,59,60,61,62,63,64,65,66,67,68,69,70,71,72,73,74,75,76,77,78,79,80,81,82,83,84,85,86,87,88,89,90,91,92,93,94,95,96,97,98,99,100,101,102,103,104,105,106,107,108,109,110,111,112,113,114,115,116,117,118],
                 "gridColor": {"condition": {"test": "datum.value % 5 === 0", "value": "#000000"}, "value": "#999999"},
                 "gridWidth": {"condition": {"test": "datum.value % 25 === 0", "value": 3.5}, "value": 2}}},
  "text": {"field": "label"},
  "color": {"field": "curve", "type": "nominal", "scale": {"domain": ["TG","C1","C2","C3","C4","C5","Res","Neu","Den"], "range": ["#ff0000","#0000ff","#008000","#ff1493","#8b4513","#ff8c00","#ff0000","#0000ff","#ff0000"]}, "legend": null}
 }},
{"data": {"name": "notes"},
 "mark": {"type": "text", "font": "Liberation Sans", "fontWeight": "bold", "fontSize": 17, "baseline": "middle", "align": "center", "stroke": "white", "strokeWidth": 7, "fill": "white", "strokeJoin": "round"},
 "encoding": {
  "x": {"field": "pos", "type": "quantitative", "scale": {"type": "log", "domain": [0.5, 5000], "nice": false}, "axis": null},
  "y": {"field": "depth", "type": "quantitative"},
  "text": {"field": "label"}
 }},
{"data": {"name": "notes"},
 "mark": {"type": "text", "font": "Liberation Sans", "fontWeight": "bold", "fontSize": 17, "baseline": "middle", "align": "center", "color": "#000000"},
 "encoding": {
  "x": {"field": "pos", "type": "quantitative", "scale": {"type": "log", "domain": [0.5, 5000], "nice": false}, "axis": null},
  "y": {"field": "depth", "type": "quantitative"},
  "text": {"field": "label"}
 }},
{"data": {"name": "tg"},
 "mark": {"type": "line", "color": "#ff0000", "strokeWidth": 3.5, "clip": true},
 "encoding": {
  "x": {"field": "tg", "type": "quantitative", "scale": {"type": "log", "domain": [0.5, 5000], "nice": false}, "axis": null},
  "y": {"field": "depth", "type": "quantitative"},
  "order": {"field": "depth", "type": "quantitative"}
 }},
{"data": {"name": "c1"},
 "mark": {"type": "line", "color": "#0000ff", "strokeWidth": 1.5, "clip": true},
 "encoding": {
  "x": {"field": "ppm", "type": "quantitative", "scale": {"type": "log", "domain": [100, 1000000], "nice": false}, "axis": null},
  "y": {"field": "depth", "type": "quantitative"},
  "order": {"field": "depth", "type": "quantitative"}
 }},
{"data": {"name": "c2"},
 "mark": {"type": "line", "color": "#008000", "strokeWidth": 1.5, "clip": true},
 "encoding": {
  "x": {"field": "ppm", "type": "quantitative", "scale": {"type": "log", "domain": [100, 1000000], "nice": false}, "axis": null},
  "y": {"field": "depth", "type": "quantitative"},
  "detail": {"field": "seg", "type": "nominal"},
  "order": {"field": "depth", "type": "quantitative"}
 }},
{"data": {"name": "c3"},
 "mark": {"type": "line", "color": "#ff1493", "strokeWidth": 1.5, "clip": true},
 "encoding": {
  "x": {"field": "ppm", "type": "quantitative", "scale": {"type": "log", "domain": [100, 1000000], "nice": false}, "axis": null},
  "y": {"field": "depth", "type": "quantitative"},
  "detail": {"field": "seg", "type": "nominal"},
  "order": {"field": "depth", "type": "quantitative"}
 }},
{"mark": {"type": "rule", "color": "#000000", "strokeWidth": 3},
 "encoding": {"x": {"datum": 0.5, "type": "quantitative", "scale": {"type": "log", "domain": [0.5, 5000], "nice": false}, "axis": null}}}
]
},
{
"width": 289, "height": 2112,
"resolve": {"scale": {"x": "independent"}},
"layer": [
{"data": {"name": "resLabels"},
 "mark": {"type": "text", "font": "Liberation Sans", "fontWeight": "bold", "fontSize": 16, "baseline": "middle", "align": "center"},
 "encoding": {
  "x": {"field": "pos", "type": "quantitative", "scale": {"type": "log", "domain": [0.1, 100], "nice": false},
        "axis": {"grid": true, "labels": false, "ticks": false, "domain": false, "title": null, "tickCount": 1000,
                 "values": [0.2,0.4,0.6,0.8,1,2,4,6,8,10,20,40,60,80],
                 "gridColor": {"condition": {"test": "indexof([1,10], datum.value) >= 0", "value": "#000000"}, "value": "#999999"},
                 "gridWidth": 2}},
  "y": {"field": "depth", "type": "quantitative", "scale": {"domain": [8.8, 118.8], "reverse": true, "nice": false, "zero": false},
        "axis": {"grid": true, "labels": false, "ticks": false, "domain": false, "title": null, "tickCount": 1000,
                 "values": [9,10,11,12,13,14,15,16,17,18,19,20,21,22,23,24,25,26,27,28,29,30,31,32,33,34,35,36,37,38,39,40,41,42,43,44,45,46,47,48,49,50,51,52,53,54,55,56,57,58,59,60,61,62,63,64,65,66,67,68,69,70,71,72,73,74,75,76,77,78,79,80,81,82,83,84,85,86,87,88,89,90,91,92,93,94,95,96,97,98,99,100,101,102,103,104,105,106,107,108,109,110,111,112,113,114,115,116,117,118],
                 "gridColor": {"condition": {"test": "datum.value % 5 === 0", "value": "#000000"}, "value": "#999999"},
                 "gridWidth": {"condition": {"test": "datum.value % 25 === 0", "value": 3.5}, "value": 2}}},
  "text": {"field": "label"},
  "color": {"field": "curve", "type": "nominal", "scale": {"domain": ["TG","C1","C2","C3","C4","C5","Res","Neu","Den"], "range": ["#ff0000","#0000ff","#008000","#ff1493","#8b4513","#ff8c00","#ff0000","#0000ff","#ff0000"]}, "legend": null}
 }},
{"data": {"name": "rxo"},
 "mark": {"type": "line", "color": "#0000ff", "strokeWidth": 1.3, "clip": true},
 "encoding": {
  "x": {"field": "ohmm", "type": "quantitative", "scale": {"type": "log", "domain": [0.1, 100], "nice": false}, "axis": null},
  "y": {"field": "depth", "type": "quantitative"},
  "order": {"field": "depth", "type": "quantitative"}
 }},
{"data": {"name": "rt"},
 "mark": {"type": "line", "color": "#000000", "strokeWidth": 1.5, "clip": true},
 "encoding": {
  "x": {"field": "ohmm", "type": "quantitative", "scale": {"type": "log", "domain": [0.1, 100], "nice": false}, "axis": null},
  "y": {"field": "depth", "type": "quantitative"},
  "order": {"field": "depth", "type": "quantitative"}
 }},
{"data": {"name": "marker"},
 "mark": {"type": "point", "shape": "triangle-right", "filled": true, "color": "#000000", "size": 40, "opacity": 1},
 "encoding": {
  "x": {"field": "ohmm", "type": "quantitative", "scale": {"type": "log", "domain": [0.1, 100], "nice": false}, "axis": null},
  "y": {"field": "depth", "type": "quantitative"}
 }},
{"mark": {"type": "rule", "color": "#000000", "strokeWidth": 3},
 "encoding": {"x": {"datum": 0.1, "type": "quantitative", "scale": {"type": "log", "domain": [0.1, 100], "nice": false}, "axis": null}}}
]
},
{
"width": 289, "height": 2112,
"layer": [
{"data": {"name": "poroLabels"},
 "mark": {"type": "text", "font": "Liberation Sans", "fontWeight": "bold", "fontSize": 16, "baseline": "middle", "align": "center"},
 "encoding": {
  "x": {"field": "pos", "type": "quantitative", "scale": {"domain": [-0.1, 0.3], "reverse": true, "nice": false, "zero": false},
        "axis": {"grid": true, "labels": false, "ticks": false, "domain": false, "title": null, "tickCount": 1000,
                 "values": [0.2, 0.1, 0], "gridColor": "#999999", "gridWidth": 2}},
  "y": {"field": "depth", "type": "quantitative", "scale": {"domain": [8.8, 118.8], "reverse": true, "nice": false, "zero": false},
        "axis": {"grid": true, "labels": false, "ticks": false, "domain": false, "title": null, "tickCount": 1000,
                 "values": [9,10,11,12,13,14,15,16,17,18,19,20,21,22,23,24,25,26,27,28,29,30,31,32,33,34,35,36,37,38,39,40,41,42,43,44,45,46,47,48,49,50,51,52,53,54,55,56,57,58,59,60,61,62,63,64,65,66,67,68,69,70,71,72,73,74,75,76,77,78,79,80,81,82,83,84,85,86,87,88,89,90,91,92,93,94,95,96,97,98,99,100,101,102,103,104,105,106,107,108,109,110,111,112,113,114,115,116,117,118],
                 "gridColor": {"condition": {"test": "datum.value % 5 === 0", "value": "#000000"}, "value": "#999999"},
                 "gridWidth": {"condition": {"test": "datum.value % 25 === 0", "value": 3.5}, "value": 2}}},
  "text": {"field": "label"},
  "color": {"field": "curve", "type": "nominal", "scale": {"domain": ["TG","C1","C2","C3","C4","C5","Res","Neu","Den"], "range": ["#ff0000","#0000ff","#008000","#ff1493","#8b4513","#ff8c00","#ff0000","#0000ff","#ff0000"]}, "legend": null}
 }},
{"data": {"name": "cross"},
 "mark": {"type": "area", "orient": "horizontal", "color": "#ffff00", "opacity": 1, "clip": true},
 "encoding": {
  "x": {"field": "den", "type": "quantitative"},
  "x2": {"field": "neu"},
  "y": {"field": "depth", "type": "quantitative"},
  "detail": {"field": "patch", "type": "nominal"}
 }},
{"data": {"name": "neu"},
 "mark": {"type": "line", "color": "#0000ff", "strokeWidth": 3.2, "clip": true},
 "encoding": {
  "x": {"field": "v", "type": "quantitative"},
  "y": {"field": "depth", "type": "quantitative"},
  "order": {"field": "depth", "type": "quantitative"}
 }},
{"data": {"name": "den"},
 "mark": {"type": "line", "color": "#ff0000", "strokeWidth": 3.2, "clip": true},
 "encoding": {
  "x": {"field": "v", "type": "quantitative"},
  "y": {"field": "depth", "type": "quantitative"},
  "order": {"field": "depth", "type": "quantitative"}
 }},
{"data": {"name": "wrap"},
 "mark": {"type": "line", "strokeWidth": 3.2, "clip": true},
 "encoding": {
  "x": {"field": "v", "type": "quantitative"},
  "y": {"field": "depth", "type": "quantitative"},
  "detail": {"field": "seg", "type": "nominal"},
  "color": {"field": "curve", "type": "nominal", "scale": {"domain": ["TG","C1","C2","C3","C4","C5","Res","Neu","Den"], "range": ["#ff0000","#0000ff","#008000","#ff1493","#8b4513","#ff8c00","#ff0000","#0000ff","#ff0000"]}, "legend": null},
  "order": {"field": "depth", "type": "quantitative"}
 }},
{"data": {"name": "hatch"},
 "mark": {"type": "rule", "color": "#0000ff", "strokeWidth": 3},
 "encoding": {
  "x": {"field": "v", "type": "quantitative"},
  "y": {"field": "top", "type": "quantitative"},
  "y2": {"field": "bottom"}
 }},
{"mark": {"type": "rule", "color": "#000000", "strokeWidth": 3},
 "encoding": {"x": {"datum": 0.3, "type": "quantitative"}}},
{"mark": {"type": "rule", "color": "#000000", "strokeWidth": 3},
 "encoding": {"x": {"datum": -0.1, "type": "quantitative"}}}
]
}
]
}
